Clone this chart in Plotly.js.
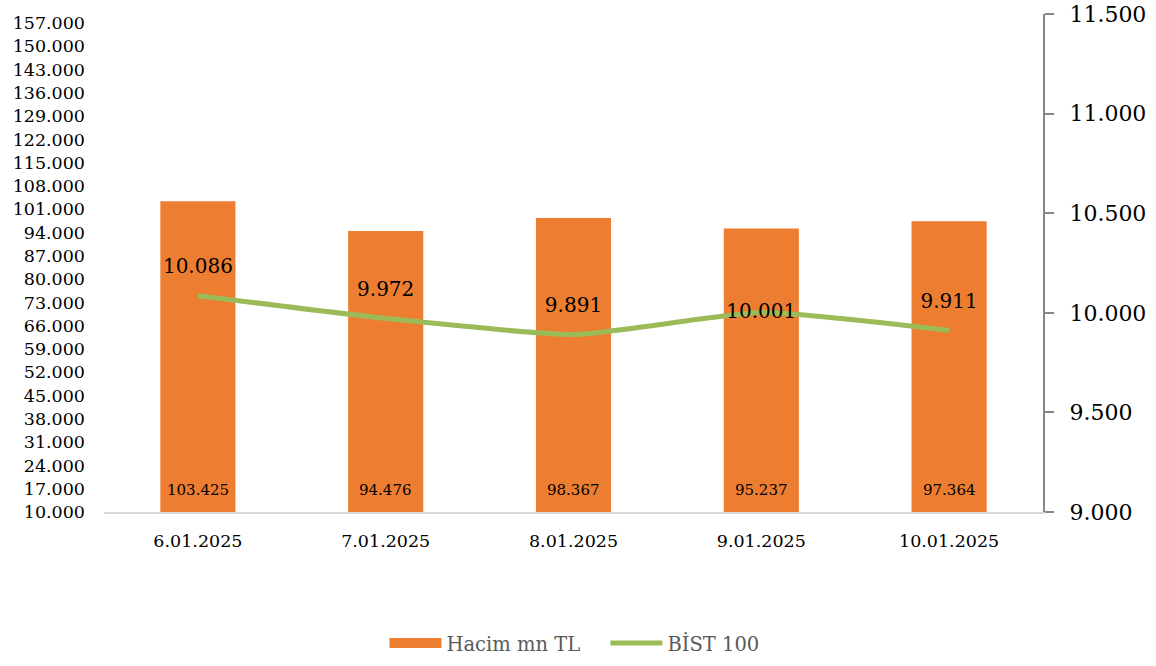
<!DOCTYPE html>
<html>
<head>
<meta charset="utf-8">
<script src="https://cdn.plot.ly/plotly-3.0.1.min.js"></script>
<style>html,body{margin:0;padding:0;background:#fff;}#chart{width:1156px;height:666px;}</style>
</head>
<body>
<div id="chart"></div>
<script>
const categories = ["6.01.2025", "7.01.2025", "8.01.2025", "9.01.2025", "10.01.2025"];
const volume = [103425, 94476, 98367, 95237, 97364];
const bist = [10086, 9972, 9891, 10001, 9911];
const leftTicks = [10000,17000,24000,31000,38000,45000,52000,59000,66000,73000,80000,87000,94000,101000,108000,115000,122000,129000,136000,143000,150000,157000];
const rightTicks = [9000, 9500, 10000, 10500, 11000, 11500];
const bistLabelPos = ["top center","top center","top center","middle center","top center"];

const fmt = v => v.toLocaleString('de-DE', {minimumFractionDigits: 0});
const FONT = "DejaVu Serif, Liberation Serif, serif";
const AXIS_MIN = leftTicks[0];
const ORANGE = '#ED7D31', GREEN = '#9BBB59';

const traces = [
  {
    type: 'bar', name: 'Hacim mn TL', x: categories, y: volume, showlegend: false,
    marker: {color: ORANGE}, width: 0.4, hoverinfo: 'x+y'
  },
  {
    // legend-only entry drawn as a wide orange swatch
    type: 'scatter', mode: 'lines', name: 'Hacim mn TL', x: [null], y: [null],
    line: {color: ORANGE, width: 13}, hoverinfo: 'skip'
  },
  {
    type: 'scatter', mode: 'lines', name: 'BİST 100', x: categories, y: bist, yaxis: 'y2',
    line: {color: GREEN, width: 5, shape: 'spline', smoothing: 0.5}
  },
  {
    type: 'scatter', mode: 'markers+text', name: 'BİST 100 labels', x: categories, y: bist, yaxis: 'y2',
    showlegend: false, marker: {size: 26, opacity: 0, color: GREEN},
    text: bist.map(fmt), textposition: bistLabelPos,
    textfont: {family: FONT, size: 20, color: '#000'}, cliponaxis: false, hoverinfo: 'skip'
  }
];

const annotations = categories.map((c, i) => ({
  x: c, y: AXIS_MIN, xref: 'x', yref: 'y', text: fmt(volume[i]), showarrow: false,
  yanchor: 'middle', yshift: 22, font: {family: FONT, size: 15, color: '#000'}
}));

const layout = {
  width: 1156, height: 666,
  margin: {l: 104, r: 113, t: 14, b: 154},
  paper_bgcolor: '#fff', plot_bgcolor: '#fff',
  font: {family: FONT, color: '#000'},
  showlegend: true,
  annotations: annotations,
  legend: {orientation: 'h', x: 0.534, xanchor: 'center', xref: 'paper',
           y: 0.034, yref: 'container', yanchor: 'middle',
           font: {family: FONT, size: 19.5, color: '#595959'}, traceorder: 'normal', itemwidth: 52,
           entrywidth: 154},
  bargap: 0.6,
  xaxis: {
    type: 'category', showgrid: false, zeroline: false,
    showline: true, linecolor: '#D9D9D9', linewidth: 2,
    ticks: '', tickfont: {family: FONT, size: 17.5, color: '#000'}, ticklabelstandoff: 12
  },
  yaxis: {
    range: [AXIS_MIN, 159700], tickvals: leftTicks, ticktext: leftTicks.map(fmt),
    showgrid: false, zeroline: false, showline: false, ticks: '',
    tickfont: {family: FONT, size: 17.5, color: '#000'}, ticklabelstandoff: 18
  },
  yaxis2: {
    overlaying: 'y', side: 'right', range: [9000, 11500],
    tickvals: rightTicks, ticktext: rightTicks.map(fmt),
    showgrid: false, zeroline: false, showline: true, linecolor: '#868686', linewidth: 2,
    ticks: 'outside', ticklen: 9, tickcolor: '#868686', tickwidth: 2,
    tickfont: {family: FONT, size: 22, color: '#000'}, ticklabelstandoff: 11
  }
};

Plotly.newPlot('chart', traces, layout, {displayModeBar: false, staticPlot: true});
</script>
</body>
</html>
